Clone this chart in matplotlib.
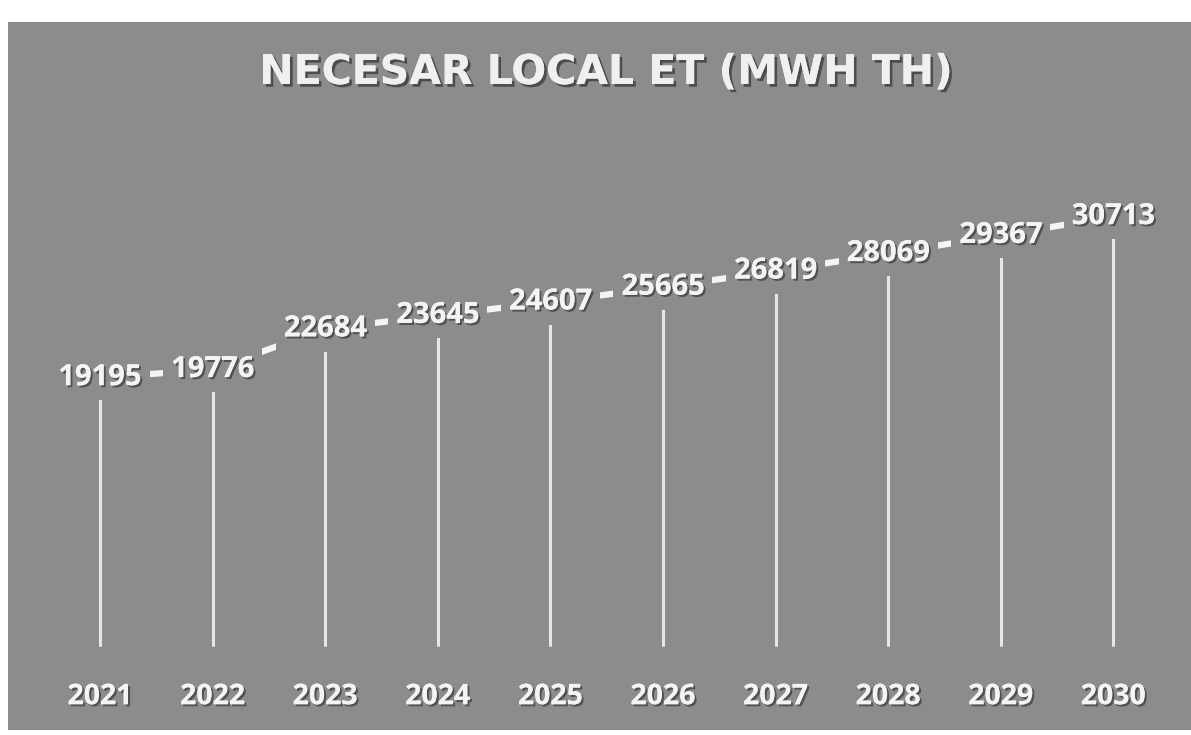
import matplotlib
matplotlib.use("Agg")
import matplotlib.pyplot as plt
import matplotlib.patheffects as pe

# datele graficului
ani = ["2021", "2022", "2023", "2024", "2025", "2026", "2027", "2028", "2029", "2030"]
necesar = [19195, 19776, 22684, 23645, 24607, 25665, 26819, 28069, 29367, 30713]
titlu = "NECESAR LOCAL ET (MWH TH)"

fundal = "#8c8c8c"
alb = "#f4f4f4"
umbra = [pe.withSimplePatchShadow(offset=(1.5, -1.5), shadow_rgbFace="#3a3a3a", alpha=0.7), pe.Normal()]

fig = plt.figure(figsize=(11.91, 7.35), dpi=100, facecolor="white")
ax = fig.add_axes([8 / 1191, 5 / 735, 1183 / 1191, 708 / 735])
ax.set_facecolor(fundal)

x = list(range(len(ani)))

# liniile verticale (drop lines)
ax.vlines(x, 0, necesar, colors="#e6e6e6", linewidth=2.2, zorder=2,
          path_effects=[pe.withSimplePatchShadow(offset=(1, -0.5), shadow_rgbFace="#555555", alpha=0.6), pe.Normal()])

# linia care uneste valorile
ax.plot(x, necesar, color=alb, linewidth=4.5, solid_capstyle="round", zorder=3)

# etichetele valorilor, cu fundal gri ca sa ascunda linia
for xi, v in zip(x, necesar):
    ax.text(xi, v, str(v), ha="center", va="center", color=alb, fontsize=21,
            fontweight="bold", family="Open Sans", zorder=4, path_effects=umbra,
            bbox=dict(boxstyle="square,pad=0.28", facecolor=fundal, edgecolor="none"))

# anii pe axa x
for xi, an in zip(x, ani):
    ax.text(xi, 0.047, an, transform=ax.get_xaxis_transform(), ha="center", va="center",
            color=alb, fontsize=20.5, fontweight="bold", family="Open Sans", path_effects=umbra)

ax.text(0.5055, 0.928, titlu, transform=ax.transAxes, ha="center", va="center",
        color="#f0f0f0", fontsize=29.5, fontweight="bold", family="DejaVu Sans",
        path_effects=[pe.withSimplePatchShadow(offset=(2, -2), shadow_rgbFace="#333333", alpha=0.7), pe.Normal()])

ax.set_xlim(-0.817, 9.69)
ax.set_ylim(-6009, 44635)
ax.set_xticks([])
ax.set_yticks([])
for s in ax.spines.values():
    s.set_visible(False)

fig.savefig("out.png", dpi=100, facecolor="white")
